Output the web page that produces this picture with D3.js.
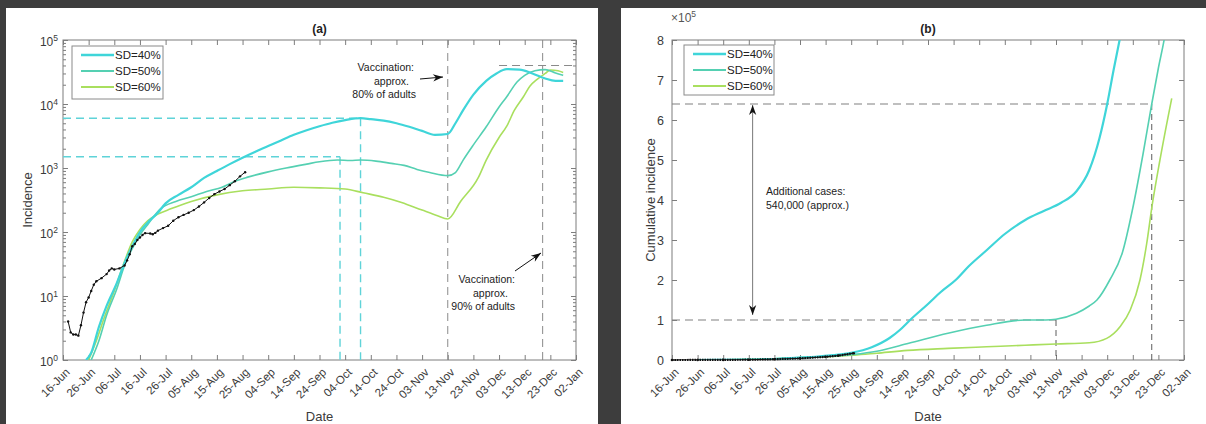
<!DOCTYPE html>
<html>
<head>
<meta charset="utf-8">
<script src="https://cdn.jsdelivr.net/npm/d3@7"></script>
<style>
body { margin: 0; background: #3d3d3d; }
svg { display: block; font-family: "Liberation Sans", Arial, sans-serif; }
</style>
</head>
<body>
<svg id="chart" width="1206" height="424"></svg>
<script>
// axis ticks
const dateTicks = ["16-Jun","26-Jun","06-Jul","16-Jul","26-Jul","05-Aug","15-Aug","25-Aug","04-Sep","14-Sep","24-Sep","04-Oct","14-Oct","24-Oct","03-Nov","13-Nov","23-Nov","03-Dec","13-Dec","23-Dec","02-Jan"];
const logTicks = [1, 10, 100, 1000, 10000, 100000];
const cumTicks = [0, 100000, 200000, 300000, 400000, 500000, 600000, 700000, 800000];
const seriesNames = ["SD=40%", "SD=50%", "SD=60%"];
const seriesColors = ["#3fd5d9", "#55d0b2", "#a9df5e"];
const seriesWidths = [2.2, 1.6, 1.6];

// (a) daily incidence -- x = days after 16-Jun
const sd40DaysA = [9, 11, 14, 17, 21, 24, 27, 30, 33, 37, 40, 45, 50, 55, 60, 65, 70, 75, 80, 85, 90, 95, 100, 105, 110, 116, 120, 125, 130, 135, 140, 145, 150, 153, 156, 160, 165, 169, 173, 178, 183, 188, 192, 195];
const sd40IncA = [1, 1.3, 3.3, 7, 16, 33, 60, 100, 140, 200, 280, 380, 500, 700, 900, 1150, 1450, 1800, 2200, 2700, 3300, 3900, 4500, 5100, 5600, 6000, 5800, 5500, 5000, 4400, 3800, 3300, 3400, 5000, 8000, 14000, 23000, 30000, 35000, 34500, 30000, 25000, 23000, 23000];
const sd50DaysA = [11, 14, 17, 21, 24, 27, 30, 33, 38, 44, 50, 56, 62, 67, 72, 80, 87, 95, 100, 107, 112, 116, 122, 128, 133, 138, 143, 150, 153, 156, 160, 165, 170, 173, 177, 180, 184, 188, 192, 195];
const sd50IncA = [1, 2, 5, 13, 30, 55, 90, 130, 230, 300, 355, 430, 500, 620, 720, 870, 1000, 1150, 1250, 1330, 1310, 1330, 1280, 1180, 1100, 950, 850, 760, 850, 1330, 2300, 4400, 9000, 13000, 22000, 28000, 33000, 34500, 30500, 28000];
const sd60DaysA = [10, 13, 16, 20, 24, 27, 30, 33, 37, 42, 50, 60, 70, 80, 90, 100, 110, 117, 125, 132, 140, 146, 150, 155, 162, 165, 170, 173, 176, 179.5, 182, 184.7, 188, 190, 193, 195];
const sd60IncA = [1, 2, 4.5, 12, 35, 70, 110, 150, 190, 230, 300, 380, 440, 470, 500, 490, 470, 410, 350, 290, 220, 180, 160, 300, 720, 1330, 3000, 4500, 8000, 13000, 19000, 24000, 30000, 34000, 33000, 31000];
const obsDaysA = [2, 3, 4, 5, 6, 7, 8, 9, 10, 11, 12, 13, 15, 17, 18, 19, 20, 22, 24, 25, 26, 27, 28, 29, 30, 31, 32, 34, 35, 36, 37, 39, 41, 43, 45, 47, 49, 51, 53, 55, 57, 59, 61, 63, 65, 67, 69, 71];
const obsIncA = [4, 2.7, 2.5, 2.5, 2.4, 3.5, 5.5, 8, 9.5, 12, 15, 17, 19, 22, 25, 27, 26, 27, 30, 36, 45, 60, 65, 75, 82, 90, 96, 95, 92, 97, 105, 115, 125, 150, 170, 185, 200, 220, 250, 290, 340, 390, 430, 470, 540, 620, 740, 860];

// (b) cumulative incidence
const sd40DaysB = [10, 30, 40, 50, 56, 63, 70, 78, 85, 89, 93, 100, 105, 110.8, 116, 123, 130, 138, 145, 152, 158, 163, 167, 170, 172.5, 175, 176];
const sd40CumB = [0, 1000, 2500, 6000, 8000, 12000, 18000, 32000, 55000, 75000, 100000, 140000, 170000, 200000, 235000, 275000, 315000, 350000, 372000, 393000, 422000, 475000, 555000, 640000, 725000, 805000, 835000];
const sd50DaysB = [10, 40, 55, 71, 80, 92.5, 107.8, 122.9, 137.9, 146, 150, 158, 163, 166, 171, 176, 180, 184, 187.4, 190, 192.5, 193];
const sd50CumB = [0, 3000, 8000, 14000, 22000, 42000, 67000, 87000, 100000, 100000, 102000, 117000, 135000, 150000, 200000, 270000, 380000, 515000, 640000, 730000, 810000, 830000];
const sd60DaysB = [10, 40, 55, 71, 80, 92, 107.8, 122.9, 137.9, 150, 163, 169.8, 175, 179, 182.8, 185.4, 187.4, 190.6, 195.2];
const sd60CumB = [0, 3000, 7000, 12000, 17000, 24000, 29000, 33000, 37000, 40000, 43000, 54000, 83000, 125000, 200000, 290000, 380000, 500000, 654000];
const obsDaysB = [0, 10, 20, 30, 40, 50, 60, 65, 71];
const obsCumB = [0, 100, 300, 800, 2000, 4000, 8000, 11000, 17000];

// reference lines
const peakDays = [116, 108];
const peakInc = [6000, 1500];
const vaccDays = [150, 187];
const topIncLevel = 40000, topIncFrom = 170;
const cumLevels = [100000, 640000];
const cumLevelDays = [150, 187.4];
const arrowDay = 31.5;

const svg = d3.select("#chart");
svg.append("rect").attr("x", 6).attr("y", 8).attr("width", 592).attr("height", 416).attr("fill", "#fff");
svg.append("rect").attr("x", 621).attr("y", 8).attr("width", 585).attr("height", 416).attr("fill", "#fff");

const defs = svg.append("defs");
defs.append("marker").attr("id", "head")
  .attr("viewBox", "-11 -5 12 10").attr("refX", 0).attr("refY", 0)
  .attr("markerWidth", 12).attr("markerHeight", 10)
  .attr("markerUnits", "userSpaceOnUse").attr("orient", "auto-start-reverse")
  .append("path").attr("d", "M0,0L-10,-3.6L-7,0L-10,3.6Z").attr("fill", "#111");

const start = new Date(2020, 5, 16);
const end = new Date(2021, 0, 2);
const toDate = d => new Date(start.getTime() + d * 864e5);
const parseTick = s => d3.timeParse("%d-%b-%Y")(s + (s.endsWith("Jan") ? "-2021" : "-2020"));
const tickDates = dateTicks.map(parseTick);

const pa = {left: 63, right: 576, top: 40, bottom: 360};
const pb = {left: 672, right: 1184, top: 40, bottom: 360};
const axisCol = "#7d7d7d", textCol = "#3a3a3a";

const xA = d3.scaleTime().domain([start, end]).range([pa.left, pa.right]);
const yA = d3.scaleLog().domain([1, 1e5]).range([pa.bottom, pa.top]);
const xB = d3.scaleTime().domain([start, end]).range([pb.left, pb.right]);
const yB = d3.scaleLinear().domain([0, 8e5]).range([pb.bottom, pb.top]);

function styleAxis(g) {
  g.select(".domain").remove();
  g.selectAll("line").attr("stroke", axisCol);
  g.selectAll("text").attr("fill", textCol).attr("font-size", 11.5).attr("font-family", "Liberation Sans, Arial, sans-serif");
}

function dateAxes(x, p) {
  svg.append("g").attr("transform", `translate(0,${p.bottom})`)
    .call(d3.axisBottom(x).tickValues(tickDates).tickSize(-5).tickFormat(d3.timeFormat("%d-%b")))
    .call(styleAxis)
    .call(g => g.selectAll("text").attr("y", 0).attr("dy", 0)
      .attr("text-anchor", "end").attr("transform", "translate(7,13) rotate(-45)"));
  svg.append("g").attr("transform", `translate(0,${p.top})`)
    .call(d3.axisTop(x).tickValues(tickDates).tickSize(-5).tickFormat(""))
    .call(styleAxis);
  svg.append("text").attr("x", (p.left + p.right) / 2).attr("y", 421)
    .attr("text-anchor", "middle").attr("font-size", 13).attr("fill", textCol).text("Date");
}

function frame(p) {
  svg.append("rect").attr("x", p.left).attr("y", p.top)
    .attr("width", p.right - p.left).attr("height", p.bottom - p.top)
    .attr("fill", "none").attr("stroke", axisCol).attr("stroke-width", 1);
}

function legend(x0, y0, w, h) {
  const lg = svg.append("g");
  lg.append("rect").attr("x", x0).attr("y", y0).attr("width", w).attr("height", h)
    .attr("fill", "#fff").attr("stroke", "#8a8a8a");
  seriesNames.forEach((n, i) => {
    const yy = y0 + 9 + i * 16;
    lg.append("line").attr("x1", x0 + 9).attr("x2", x0 + 42).attr("y1", yy).attr("y2", yy)
      .attr("stroke", seriesColors[i]).attr("stroke-width", seriesWidths[i] + 0.4);
    lg.append("text").attr("x", x0 + 43).attr("y", yy + 4).attr("font-size", 11.5)
      .attr("fill", "#222").text(n);
  });
}

function dashed(x1, y1, x2, y2, col, w, dash) {
  svg.append("line").attr("x1", x1).attr("y1", y1).attr("x2", x2).attr("y2", y2)
    .attr("stroke", col).attr("stroke-width", w).attr("stroke-dasharray", dash || "8,5");
}

function arrow(x1, y1, x2, y2, both) {
  const l = svg.append("line").attr("x1", x1).attr("y1", y1).attr("x2", x2).attr("y2", y2)
    .attr("stroke", both ? "#777" : "#111").attr("stroke-width", 1).attr("marker-end", "url(#head)");
  if (both) l.attr("marker-start", "url(#head)");
}

function textLines(lines, x, y, anchor, dy) {
  lines.forEach((t, i) => svg.append("text").attr("x", x).attr("y", y + i * dy)
    .attr("text-anchor", anchor).attr("font-size", 10.5).attr("fill", "#222").text(t));
}

// ---------- panel (a) ----------
frame(pa);
dateAxes(xA, pa);
const minorA = yA.ticks().filter(v => !logTicks.includes(v));
svg.append("g").attr("transform", `translate(${pa.left},0)`)
  .call(d3.axisLeft(yA).tickValues(logTicks).tickSize(-5).tickPadding(5).tickFormat(""))
  .call(styleAxis)
  .call(g => g.selectAll(".tick text").each(function(d) {
    const t = d3.select(this).attr("dy", "0.45em").attr("font-size", 12);
    t.append("tspan").text("10");
    t.append("tspan").attr("dy", "-0.6em").attr("font-size", 8.5).text(Math.round(Math.log10(d)));
  }));
svg.append("g").attr("transform", `translate(${pa.left},0)`)
  .call(d3.axisLeft(yA).tickValues(minorA).tickSize(-3).tickFormat("")).call(styleAxis);
svg.append("g").attr("transform", `translate(${pa.right},0)`)
  .call(d3.axisRight(yA).tickValues(logTicks).tickSize(-5).tickFormat("")).call(styleAxis);
svg.append("g").attr("transform", `translate(${pa.right},0)`)
  .call(d3.axisRight(yA).tickValues(minorA).tickSize(-3).tickFormat("")).call(styleAxis);
svg.append("text").attr("transform", `translate(32,${(pa.top + pa.bottom) / 2}) rotate(-90)`)
  .attr("text-anchor", "middle").attr("font-size", 13).attr("fill", textCol).text("Incidence");
svg.append("text").attr("x", (pa.left + pa.right) / 2).attr("y", 33).attr("text-anchor", "middle")
  .attr("font-size", 12).attr("font-weight", "bold").attr("fill", "#222").text("(a)");

// reference lines (a)
peakDays.forEach((d, i) => {
  dashed(pa.left, yA(peakInc[i]), xA(toDate(d)), yA(peakInc[i]), "#5fd3d8", 1.4);
  dashed(xA(toDate(d)), yA(peakInc[i]), xA(toDate(d)), pa.bottom, "#5fd3d8", 1.4);
});
vaccDays.forEach(d => dashed(xA(toDate(d)), pa.top, xA(toDate(d)), pa.bottom, "#8a8a8a", 1));
dashed(xA(toDate(topIncFrom)), yA(topIncLevel), pa.right, yA(topIncLevel), "#8a8a8a", 1.1);

const clipA = defs.append("clipPath").attr("id", "clipA").append("rect")
  .attr("x", pa.left).attr("y", pa.top).attr("width", pa.right - pa.left).attr("height", pa.bottom - pa.top);
const clipB = defs.append("clipPath").attr("id", "clipB").append("rect")
  .attr("x", pb.left).attr("y", pb.top).attr("width", pb.right - pb.left).attr("height", pb.bottom - pb.top);

function curve(x, y, days, vals, col, w, clip) {
  const line = d3.line().x((d, i) => x(toDate(days[i]))).y(d => y(d)).curve(d3.curveMonotoneX);
  svg.append("path").attr("d", line(vals)).attr("fill", "none").attr("stroke", col)
    .attr("stroke-width", w).attr("clip-path", `url(#${clip})`).attr("stroke-linejoin", "round");
}
function observed(x, y, days, vals, clip, r) {
  const line = d3.line().x((d, i) => x(toDate(days[i]))).y(d => y(d));
  svg.append("path").attr("d", line(vals)).attr("fill", "none").attr("stroke", "#111")
    .attr("stroke-width", 1).attr("clip-path", `url(#${clip})`);
  svg.append("g").selectAll("circle").data(vals).join("circle")
    .attr("cx", (d, i) => x(toDate(days[i]))).attr("cy", d => y(d)).attr("r", r).attr("fill", "#111");
}

curve(xA, yA, sd60DaysA, sd60IncA, seriesColors[2], seriesWidths[2], "clipA");
curve(xA, yA, sd50DaysA, sd50IncA, seriesColors[1], seriesWidths[1], "clipA");
curve(xA, yA, sd40DaysA, sd40IncA, seriesColors[0], seriesWidths[0], "clipA");
observed(xA, yA, obsDaysA, obsIncA, "clipA", 1.2);

legend(72, 46, 91, 53);
textLines(["Vaccination:"], 414, 71, "end", 0);
textLines(["approx."], 409, 85, "end", 0);
textLines(["80% of adults"], 416, 98, "end", 0);
arrow(420, 79, 443, 77);
textLines(["Vaccination:"], 515, 283, "end", 0);
textLines(["approx."], 508, 297, "end", 0);
textLines(["90% of adults"], 515, 310, "end", 0);
arrow(515, 271, 541, 253);

// ---------- panel (b) ----------
frame(pb);
dateAxes(xB, pb);
svg.append("g").attr("transform", `translate(${pb.left},0)`)
  .call(d3.axisLeft(yB).tickValues(cumTicks).tickSize(-5).tickPadding(8).tickFormat(d => d / 1e5))
  .call(styleAxis).call(g => g.selectAll("text").attr("font-size", 12.5));
svg.append("g").attr("transform", `translate(${pb.right},0)`)
  .call(d3.axisRight(yB).tickValues(cumTicks).tickSize(-5).tickFormat("")).call(styleAxis);
svg.append("text").attr("transform", `translate(655,${(pb.top + pb.bottom) / 2}) rotate(-90)`)
  .attr("text-anchor", "middle").attr("font-size", 13).attr("fill", textCol).text("Cumulative incidence");
svg.append("text").attr("x", (pb.left + pb.right) / 2).attr("y", 33).attr("text-anchor", "middle")
  .attr("font-size", 12).attr("font-weight", "bold").attr("fill", "#222").text("(b)");
const mult = svg.append("text").attr("x", 671).attr("y", 22).attr("font-size", 12).attr("fill", "#555");
mult.append("tspan").text("\u00d710");
mult.append("tspan").attr("dy", -5).attr("font-size", 8.5).text("5");

cumLevels.forEach((v, i) => {
  dashed(pb.left, yB(v), xB(toDate(cumLevelDays[i])), yB(v), "#808080", 1.2);
  dashed(xB(toDate(cumLevelDays[i])), yB(v), xB(toDate(cumLevelDays[i])), pb.bottom, "#333", 0.8, "6,4");
});

curve(xB, yB, sd60DaysB, sd60CumB, seriesColors[2], seriesWidths[2], "clipB");
curve(xB, yB, sd50DaysB, sd50CumB, seriesColors[1], seriesWidths[1], "clipB");
curve(xB, yB, sd40DaysB, sd40CumB, seriesColors[0], seriesWidths[0], "clipB");
observed(xB, yB, obsDaysB, obsCumB, "clipB", 1.3);
svg.append("path")
  .attr("d", d3.line().x((d, i) => xB(toDate(obsDaysB[i]))).y(d => yB(d))(obsCumB))
  .attr("fill", "none").attr("stroke", "#111").attr("stroke-width", 2.2).attr("stroke-dasharray", "1.5,1");

legend(684, 45, 90, 50);
arrow(xB(toDate(arrowDay)), yB(cumLevels[0]) - 5, xB(toDate(arrowDay)), yB(cumLevels[1]) + 1, true);
textLines(["Additional cases:", "540,000 (approx.)"], 766, 195, "start", 14);
</script>
</body>
</html>
